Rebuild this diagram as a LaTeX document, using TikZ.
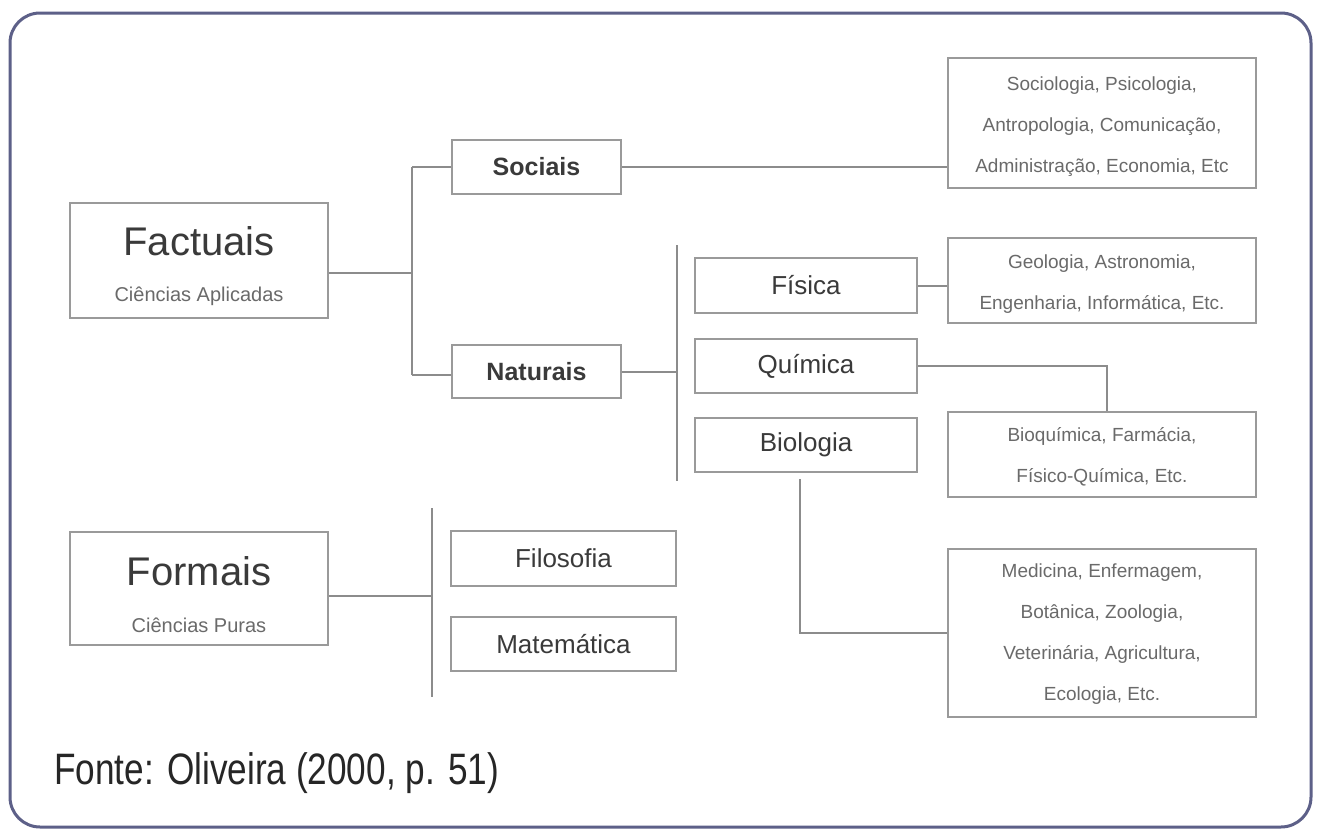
\documentclass[tikz,border=0pt]{standalone}
\usepackage{fontspec}
\setmainfont{Liberation Sans}
\newfontfamily\narrowfont[FakeStretch=0.8]{Liberation Sans}
\definecolor{framecol}{HTML}{5D6088}
\definecolor{boxgray}{HTML}{9A9A9A}
\definecolor{linegray}{HTML}{8C8C8C}
\definecolor{txtdark}{HTML}{3A3A3A}
\definecolor{txtlight}{HTML}{6A6A6A}
\begin{document}
\begin{tikzpicture}[x=1pt,y=-1pt,
  box/.style={draw=boxgray, line width=2.2pt, inner sep=0pt, fill=white},
  midlabel/.style={box, text=txtdark, font=\fontsize{26}{30}\selectfont},
  midbold/.style={box, text=txtdark, font=\fontsize{25}{30}\selectfont\bfseries},
  listbox/.style={box, text=txtlight, inner ysep=0pt},
  listtext/.style={text=txtlight, inner sep=0pt, align=center, font=\fontsize{19}{41}\selectfont},
  bigtitle/.style={text=txtdark, inner sep=0pt, font=\fontsize{40}{44}\selectfont},
  subtitle/.style={text=txtlight, inner sep=0pt, font=\fontsize{20}{24}\selectfont},
  conn/.style={draw=linegray, line width=2pt}
]
\useasboundingbox (0,0) rectangle (1318,830);
\fill[white] (0,0) rectangle (1318,830);
\draw[framecol, line width=3pt, rounded corners=30pt] (10,13) rectangle (1311,827);

% left column
\node[box, minimum width=258pt, minimum height=115pt] (fact) at (199,260.5) {};
\node[bigtitle] (factT) at (199,241) {Factuais};
\node[subtitle] (factS) at (199,296) {Ciências Aplicadas};
\node[box, minimum width=258pt, minimum height=113pt] (form) at (199,588.5) {};
\node[bigtitle] (formT) at (199,571) {Formais};
\node[subtitle] (formS) at (199,625) {Ciências Puras};

% second column
\node[midbold, minimum width=169pt, minimum height=54pt] (soc) at (536.5,167) {Sociais};
\node[midbold, minimum width=169pt, minimum height=53pt] (nat) at (536.5,371.5) {Naturais};
\node[midlabel, minimum width=225pt, minimum height=55pt] (fil) at (563.5,558.5) {Filosofia};
\node[midlabel, minimum width=225pt, minimum height=54pt] (mat) at (563.5,644) {Matemática};

% third column
\node[midlabel, minimum width=222pt, minimum height=55pt] (fis) at (806,285.5) {Física};
\node[midlabel, minimum width=222pt, minimum height=54pt] (qui) at (806,366) {Química};
\node[midlabel, minimum width=222pt, minimum height=54pt] (bio) at (806,445) {Biologia};

% right column
\node[listbox, minimum width=308pt, minimum height=130pt] (r1) at (1102,123) {};
\node[listtext] (r1t) at (1102,127)
  {Sociologia, Psicologia,\\Antropologia, Comunicação,\\Administração, Economia, Etc};
\node[listbox, minimum width=308pt, minimum height=85pt] (r2) at (1102,280.5) {};
\node[listtext] (r2t) at (1102,284.5)
  {Geologia, Astronomia,\\Engenharia, Informática, Etc.};
\node[listbox, minimum width=308pt, minimum height=85pt] (r3) at (1102,454.5) {};
\node[listtext] (r3t) at (1102,457)
  {Bioquímica, Farmácia,\\Físico-Química, Etc.};
\node[listbox, minimum width=308pt, minimum height=168pt] (r4) at (1102,633) {};
\node[listtext] (r4t) at (1102,634)
  {Medicina, Enfermagem,\\Botânica, Zoologia,\\Veterinária, Agricultura,\\Ecologia, Etc.};

% junction coordinates
\coordinate (fj) at (412,273);
\coordinate (fjTop) at (412,167);
\coordinate (fjBot) at (412,375);
\coordinate (nj) at (677,367);
\coordinate (njTop) at (677,245);
\coordinate (njBot) at (677,481);
\coordinate (qj) at (1107,366);
\coordinate (bj) at (800,479);
\coordinate (bjc) at (800,633);
\coordinate (mj) at (432,596);
\coordinate (mjTop) at (432,508);
\coordinate (mjBot) at (432,697);

% connectors
\draw[conn] (fj -| fact.east) -- (fj);
\draw[conn] (fjTop) -- (fjBot);
\draw[conn] (fjTop) -- (soc.west);
\draw[conn] (fjBot) -- (fjBot -| nat.west);
\draw[conn] (soc.east) -- (soc.east -| r1.west);
\draw[conn] (nat.east) -- (nat.east -| nj);
\draw[conn] (njTop) -- (njBot);
\draw[conn] (fis.east) -- (fis.east -| r2.west);
\draw[conn] (qui.east) -- (qj) -- (qj |- r3.north);
\draw[conn] (bj) -- (bjc) -- (r4.west);
\draw[conn] (mj -| form.east) -- (mj);
\draw[conn] (mjTop) -- (mjBot);

% source
\node[anchor=west, inner sep=0pt, text=black!85, font=\narrowfont\fontsize{44}{48}\selectfont] (src) at (54,773) {Fonte: Oliveira (2000, p. 51)};
\end{tikzpicture}
\end{document}
